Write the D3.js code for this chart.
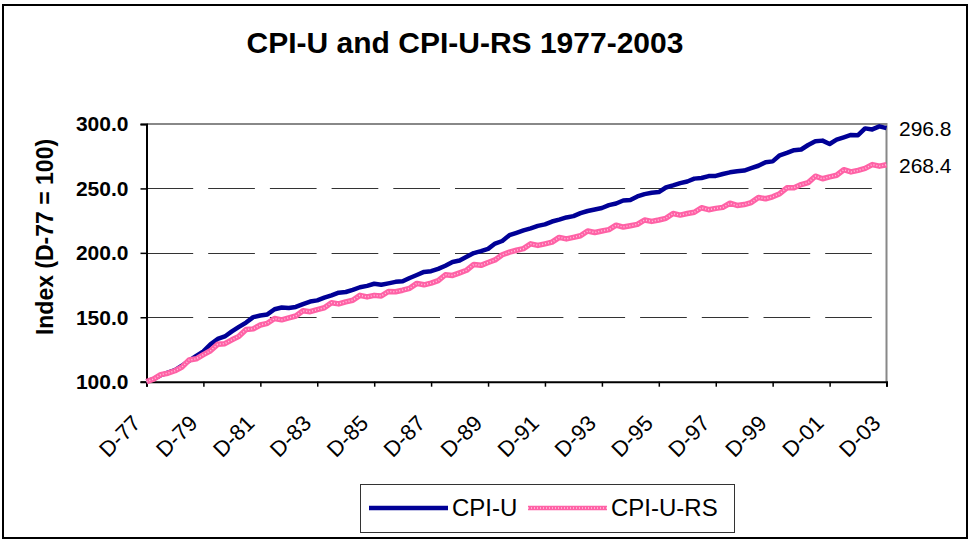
<!DOCTYPE html>
<html>
<head>
<meta charset="utf-8">
<script src="https://cdn.jsdelivr.net/npm/d3@7"></script>
<style>
  body { margin: 0; background: #fff; }
  svg { display: block; font-family: Arial, 'Liberation Sans', sans-serif; }
</style>
</head>
<body>
<svg></svg>
<script>
// quarterly readings, Dec-77 .. Dec-03 (index D-77 = 100)
let startDate = new Date(1977, 11, 1)

let cpiU = [
    100,
    102.1, 105.0, 107.1, 109.0,
    112.4, 116.4, 120.1, 123.5,
    129.0, 133.2, 135.1, 139.0,
    142.5, 145.9, 150.1, 151.4,
    152.2, 156.2, 157.6, 157.2,
    158.0, 160.2, 162.2, 163.1,
    165.2, 167.0, 169.1, 169.6,
    171.2, 173.3, 174.4, 176.0,
    175.2, 176.3, 177.5, 177.9,
    180.5, 182.8, 185.2, 185.8,
    187.6, 190.0, 192.9, 194.0,
    196.9, 199.8, 201.3, 203.1,
    207.2, 209.2, 213.7, 215.5,
    217.4, 219.0, 220.9, 222.1,
    224.3, 225.8, 227.5, 228.5,
    230.8, 232.5, 233.7, 234.8,
    237.0, 238.3, 240.6, 241.1,
    243.8, 245.6, 246.7, 247.2,
    250.7, 252.3, 254.1, 255.4,
    257.6, 258.1, 259.6, 259.7,
    261.2, 262.5, 263.4, 263.9,
    265.7, 267.6, 270.4, 271.0,
    275.7, 277.6, 279.7, 280.2,
    283.7, 286.6, 287.1, 284.5,
    287.9, 289.7, 291.5, 291.3,
    296.6, 295.8, 298.2, 296.8
]

let cpiURS = [
    100,
    102.0, 105.5, 106.6, 108.5,
    111.4, 116.8, 117.8, 121.0,
    124.0, 129.0, 129.5, 132.5,
    135.2, 140.5, 141.0, 144.0,
    145.3, 149.0, 148.0, 149.5,
    151.0, 155.0, 154.3, 156.0,
    157.4, 161.3, 160.4, 162.0,
    163.2, 167.0, 165.8, 167.0,
    166.5, 170.0, 169.8, 171.0,
    172.5, 176.3, 175.2, 176.5,
    178.4, 183.0, 182.5, 184.5,
    186.5, 191.0, 190.3, 192.5,
    194.5, 198.5, 200.5, 202.0,
    203.3, 207.0, 205.8, 207.0,
    208.3, 212.0, 210.8, 212.0,
    213.3, 217.0, 215.8, 217.0,
    218.0, 221.5, 220.0, 221.0,
    222.1, 225.5, 224.4, 225.5,
    226.8, 230.5, 229.3, 230.5,
    231.5, 235.0, 233.5, 234.5,
    235.3, 238.5, 236.8, 237.5,
    239.0, 243.0, 242.0, 243.5,
    245.9, 250.5, 250.6, 253.0,
    254.5, 259.5, 257.5, 259.0,
    260.2, 264.5, 262.8, 264.0,
    265.5, 268.5, 267.3, 268.4
]

let tickYears = [1977, 1979, 1981, 1983, 1985, 1987, 1989, 1991, 1993, 1995, 1997, 1999, 2001, 2003]
let yTicks = [100, 150, 200, 250, 300]
let seriesNames = ['CPI-U', 'CPI-U-RS']

let width = 969
let height = 540
let plotLeft = 146.5
let plotRight = 886.5
let plotTop = 124
let plotBottom = 381.7

let blue = '#000096'
let pink = '#ff62a6'
let pinkDots = '#ffc4df'

let svg = d3.select('svg').attr('width', width).attr('height', height)

let dateAt = (i) => d3.timeMonth.offset(startDate, i * 3)

let xScale = d3.scaleTime()
    .domain([startDate, new Date(2003, 11, 1)])
    .range([plotLeft, plotRight])

let yScale = d3.scaleLinear()
    .domain([100, 300])
    .range([plotBottom, plotTop])

// outer frame
svg.append('rect')
    .attr('x', 3).attr('y', 5)
    .attr('width', 964).attr('height', 533)
    .attr('fill', 'none')
    .attr('stroke', '#000')
    .attr('stroke-width', 2)

// title
svg.append('text')
    .attr('x', 465).attr('y', 53)
    .attr('text-anchor', 'middle')
    .style('font-size', '30px')
    .style('font-weight', 'bold')
    .text('CPI-U and CPI-U-RS 1977-2003')

// gridlines (dashed)
svg.append('g')
    .selectAll('line')
    .data(yTicks.filter(d => d > 100 && d < 300))
    .enter()
    .append('line')
    .attr('x1', plotLeft).attr('x2', plotRight)
    .attr('y1', d => Math.round(yScale(d)) + 0.5)
    .attr('y2', d => Math.round(yScale(d)) + 0.5)
    .attr('stroke', '#333')
    .attr('stroke-width', 1)
    .attr('stroke-dasharray', '46.7,15')

// gray plot border top / right
svg.append('path')
    .attr('d', 'M' + plotLeft + ',' + yScale(300) + 'H' + plotRight + 'V' + plotBottom)
    .attr('fill', 'none')
    .attr('stroke', '#888')
    .attr('stroke-width', 2)

// axes
let xAxis = d3.axisBottom(xScale)
    .tickValues(tickYears.map(y => new Date(y, 11, 1)))
    .tickSize(5)
    .tickFormat(d => 'D-' + String(d.getFullYear()).slice(2))

let gx = svg.append('g')
    .attr('transform', 'translate(0,' + plotBottom + ')')
    .call(xAxis)
gx.select('.domain').attr('stroke', '#000').attr('stroke-width', 2)
gx.selectAll('.tick line').attr('stroke', '#000').attr('stroke-width', 1.5)
gx.selectAll('.tick text')
    .attr('text-anchor', 'end')
    .attr('fill', '#000')
    .style('font-size', '22px')
    .attr('dy', null)
    .attr('y', null)
    .attr('transform', 'translate(-5,43) rotate(-45)')

let yAxis = d3.axisLeft(yScale)
    .tickValues(yTicks)
    .tickSize(6)
    .tickFormat(d3.format('.1f'))

let gy = svg.append('g')
    .attr('transform', 'translate(' + plotLeft + ',0)')
    .call(yAxis)
gy.select('.domain').attr('stroke', '#000').attr('stroke-width', 2)
gy.selectAll('.tick line').attr('stroke', '#000').attr('stroke-width', 1.5)
gy.selectAll('.tick text')
    .attr('x', -18)
    .attr('fill', '#000')
    .style('font-size', '21px')
    .style('font-weight', 'bold')

// y title
svg.append('text')
    .attr('transform', 'translate(53,237) rotate(-90)')
    .attr('text-anchor', 'middle')
    .style('font-size', '23px')
    .style('font-weight', 'bold')
    .text('Index (D-77 = 100)')

// lines
let line = d3.line()
    .x((d, i) => xScale(dateAt(i)))
    .y(d => yScale(d))

svg.append('path')
    .datum(cpiU)
    .attr('d', line)
    .attr('fill', 'none')
    .attr('stroke', blue)
    .attr('stroke-width', 4.5)
    .attr('stroke-linejoin', 'round')

// pink line + light dotted overlay for the Excel pattern look
svg.append('path')
    .datum(cpiURS)
    .attr('d', line)
    .attr('fill', 'none')
    .attr('stroke', pink)
    .attr('stroke-width', 5.5)
    .attr('stroke-linejoin', 'round')
svg.append('path')
    .datum(cpiURS)
    .attr('d', line)
    .attr('fill', 'none')
    .attr('stroke', pinkDots)
    .attr('stroke-width', 1.5)
    .attr('stroke-dasharray', '1,2')

// end labels
let lastIdx = cpiU.length - 1
svg.append('text')
    .attr('x', 899).attr('y', yScale(cpiU[lastIdx]) + 8)
    .style('font-size', '21px')
    .text(cpiU[lastIdx].toFixed(1))
svg.append('text')
    .attr('x', 899).attr('y', yScale(cpiURS[lastIdx]) + 8)
    .style('font-size', '21px')
    .text(cpiURS[lastIdx].toFixed(1))

// legend
let legend = svg.append('g')
legend.append('rect')
    .attr('x', 360.5).attr('y', 484.5)
    .attr('width', 374).attr('height', 48)
    .attr('fill', '#fff')
    .attr('stroke', '#333')
    .attr('stroke-width', 1)

legend.append('line')
    .attr('x1', 369).attr('x2', 448)
    .attr('y1', 508).attr('y2', 508)
    .attr('stroke', blue)
    .attr('stroke-width', 4.5)
legend.append('text')
    .attr('x', 452).attr('y', 516)
    .style('font-size', '24px')
    .text(seriesNames[0])

legend.append('line')
    .attr('x1', 528).attr('x2', 607)
    .attr('y1', 508).attr('y2', 508)
    .attr('stroke', pink)
    .attr('stroke-width', 4.5)
legend.append('line')
    .attr('x1', 528).attr('x2', 607)
    .attr('y1', 508).attr('y2', 508)
    .attr('stroke', pinkDots)
    .attr('stroke-width', 1.5)
    .attr('stroke-dasharray', '1,2')
legend.append('text')
    .attr('x', 611).attr('y', 516)
    .style('font-size', '24px')
    .text(seriesNames[1])
</script>
</body>
</html>
